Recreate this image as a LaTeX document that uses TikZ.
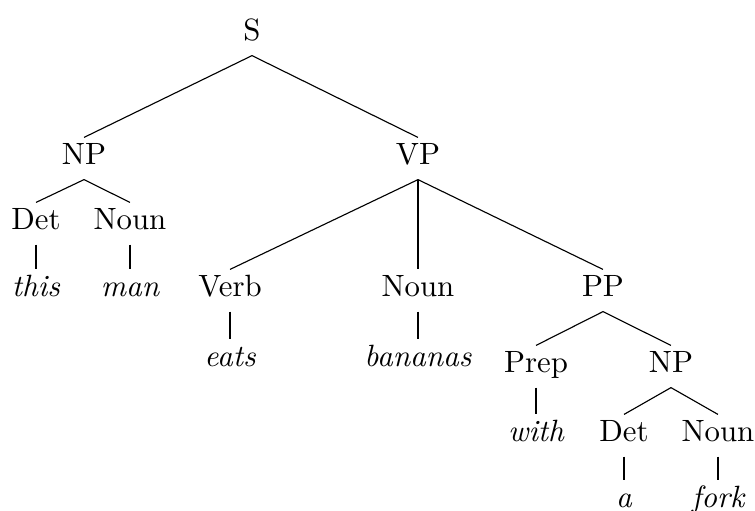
\documentclass[tikz,border=0pt]{standalone}
\usepackage{tikz}

\tikzset{
    cat/.style={anchor=base, inner sep=0pt, text height=9.6pt, text depth=5pt,
        font=\fontsize{10.95}{13}\selectfont},
    word/.style={cat, font=\fontsize{10.95}{13}\selectfont\itshape},
    branch/.style={line width=0.4pt}
}

\begin{document}
\begin{tikzpicture}[x=0.0125cm, y=-0.0125cm]

        \useasboundingbox (0,0) rectangle (755,511);

        % levels are placed on the baselines
        \node[cat] (s) at (252,41) {S};
        \node[cat] (np1) at (84,165) {NP};
        \node[cat] (vp) at (418,165) {VP};

        \node[cat] (det1) at (36,230) {Det};
        \node[cat] (noun1) at (130,230) {Noun};
        \node[word] (this) at (36,297) {this};
        \node[word] (man) at (130,297) {man};

        \node[cat] (verb) at (230,297) {Verb};
        \node[cat] (noun2) at (418,297) {Noun};
        \node[cat] (pp) at (603,297) {PP};
        \node[word] (eats) at (230,367) {eats};
        \node[word] (bananas) at (418,367) {bananas};

        \node[cat] (prep) at (536,373) {Prep};
        \node[cat] (np2) at (671,373) {NP};
        \node[word] (with) at (536,442) {with};
        \node[cat] (det2) at (624,442) {Det};
        \node[cat] (noun3) at (718,442) {Noun};
        \node[word] (a) at (624,508) {a};
        \node[word] (fork) at (718,508) {fork};

        \draw[branch] (s.south) -- (np1.north);
        \draw[branch] (s.south) -- (vp.north);
        \draw[branch] (np1.south) -- (det1.north);
        \draw[branch] (np1.south) -- (noun1.north);
        \draw[branch] (det1.south) -- (this.north);
        \draw[branch] (noun1.south) -- (man.north);

        \draw[branch] (vp.south) -- (verb.north);
        \draw[branch] (vp.south) -- (noun2.north);
        \draw[branch] (vp.south) -- (pp.north);
        \draw[branch] (verb.south) -- (eats.north);
        \draw[branch] (noun2.south) -- (bananas.north);

        \draw[branch] (pp.south) -- (prep.north);
        \draw[branch] (pp.south) -- (np2.north);
        \draw[branch] (prep.south) -- (with.north);
        \draw[branch] (np2.south) -- (det2.north);
        \draw[branch] (np2.south) -- (noun3.north);
        \draw[branch] (det2.south) -- (a.north);
        \draw[branch] (noun3.south) -- (fork.north);

    \end{tikzpicture}
\end{document}
